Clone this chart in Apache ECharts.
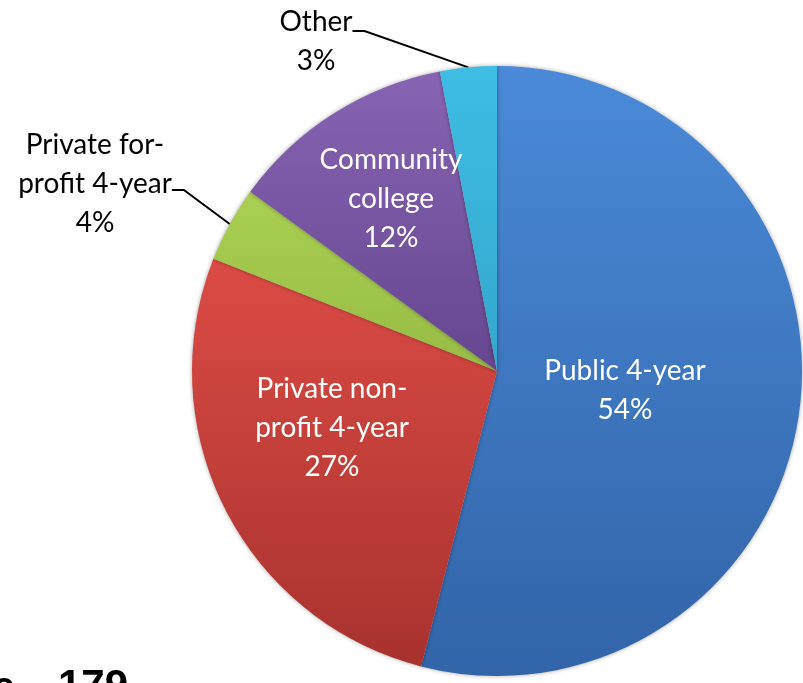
<!DOCTYPE html>
<html><head><meta charset="utf-8">
<script src="https://cdn.jsdelivr.net/npm/echarts@6/dist/echarts.min.js"></script>
<style>html,body{margin:0;padding:0;background:#fff}#c{width:803px;height:683px}</style>
</head><body><div id="c"></div>
<script>
const categories = ['Public 4-year', 'Private non-\nprofit 4-year', 'Private for-\nprofit 4-year', 'Community\ncollege', 'Other'];
const values = [54, 27, 4, 12, 3];
const colorsTop = ['#4a8ad8', '#dc4b45', '#a9cf52', '#8864b4', '#3ebde4'];
const colorsBot = ['#3264a8', '#a8322e', '#98bc44', '#65468f', '#34a6cc'];
const labelInside = [true, true, false, true, false];
// label anchor positions (px)
const labelPos = [[625, 390], [332, 428], [95, 190], [391, 199], [316, 31]];
const labelFmt = ['{b}\n{c}%', '{b}\n{c}%', '{b}\n{c}%\n{s| }', '{b}\n{c}%', '{t| }\n{b}\n{c}%'];

const chart = echarts.init(document.getElementById('c'));
const FONT = 'Lato';
chart.setOption({
  animation: false,
  series: [{
    type: 'pie',
    center: [497, 371],
    radius: 305,
    startAngle: 90,
    clockwise: true,
    itemStyle: { borderWidth: 0, shadowBlur: 4, shadowColor: 'rgba(0,0,0,0.35)' },
    labelLine: { show: true, length: 15, length2: 12, lineStyle: { color: '#000', width: 2 } },
    labelLayout: function (p) {
      const pos = labelPos[p.dataIndex];
      return { x: pos[0], y: pos[1], align: 'center', verticalAlign: 'middle' };
    },
    data: values.map((v, i) => ({
      name: categories[i],
      value: v,
      itemStyle: {
        color: new echarts.graphic.LinearGradient(0, 0, 0, 1, [
          { offset: 0, color: colorsTop[i] }, { offset: 1, color: colorsBot[i] }
        ])
      },
      label: {
        show: true,
        position: labelInside[i] ? 'inside' : 'outside',
        formatter: labelFmt[i],
        color: labelInside[i] ? '#fff' : '#000',
        fontFamily: FONT,
        fontSize: 28,
        lineHeight: 39,
        align: 'center',
        rich: {
          s: { fontSize: 1, lineHeight: 12 },
          t: { fontSize: 1, lineHeight: 20 }
        }
      },
      labelLine: { show: !labelInside[i] }
    }))
  }],
  graphic: [{
    type: 'text', left: 58, top: 666,
    style: { text: '179', fontFamily: 'Liberation Sans', fontWeight: 'bold', fontSize: 42, fill: '#000' }
  }, {
    type: 'text', left: -8, top: 668,
    style: { text: 'e', fontFamily: 'Liberation Sans', fontWeight: 'bold', fontSize: 42, fill: '#000' }
  }]
});
</script></body></html>
